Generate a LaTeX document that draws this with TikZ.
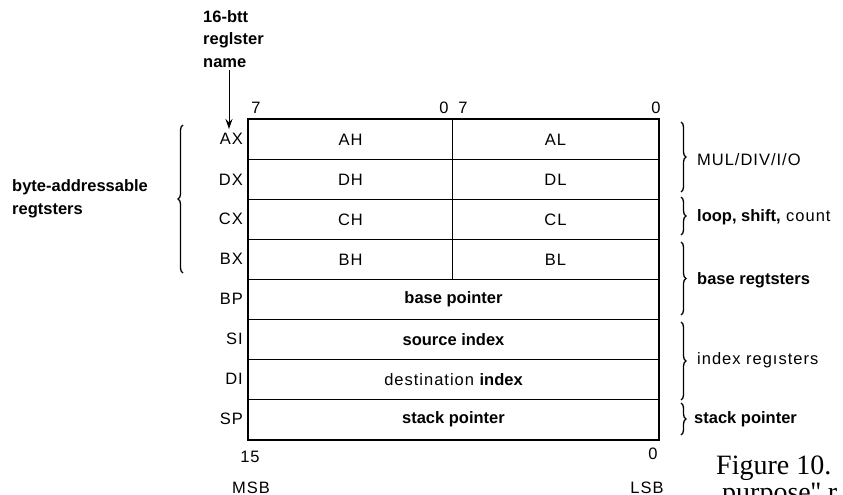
\documentclass[tikz,border=0pt]{standalone}
\usepackage{fontspec}
\setmainfont{Liberation Sans}
\newfontfamily\spfont{Liberation Sans}[LetterSpace=6]
\newfontfamily\capfont{Liberation Serif}
\newcommand\mybf[1]{{\normalfont\bfseries #1}}
\usetikzlibrary{decorations.pathreplacing,arrows.meta}
\begin{document}
\begin{tikzpicture}[x=1pt,y=-1pt,
  txt/.style={font=\spfont\fontsize{16.5}{20}\selectfont, inner sep=0pt},
  btxt/.style={font=\fontsize{16.5}{22.5}\selectfont\bfseries, inner sep=0pt},
  half/.style={draw, line width=1pt, minimum height=40pt, inner sep=0pt, anchor=north west, font=\spfont\fontsize{16.5}{20}\selectfont},
  full/.style={draw, line width=1pt, minimum height=40pt, minimum width=410pt, inner sep=0pt, anchor=north west, font=\spfont\fontsize{16.5}{20}\selectfont},
  regname/.style={txt, anchor=east},
  bitnum/.style={txt, anchor=base},
  sidetxt/.style={txt, anchor=west},
  brc/.style={decorate, decoration={brace, amplitude=5pt}, line width=1.3pt},
  arr/.style={-{Stealth[length=10pt,width=7pt]}, line width=1pt},
  captxt/.style={font=\capfont\fontsize{28}{32}\selectfont, anchor=base west, inner sep=0pt}
]
\useasboundingbox (0,0) rectangle (843,495);

% grid cells
\node[half, minimum width=204pt] (AH) at (248,119) {AH};
\node[half, minimum width=206pt] (AL) at (452,119) {AL};
\node[half, minimum width=204pt] (DH) at (248,159) {DH};
\node[half, minimum width=206pt] (DL) at (452,159) {DL};
\node[half, minimum width=204pt] (CH) at (248,199) {CH};
\node[half, minimum width=206pt] (CL) at (452,199) {CL};
\node[half, minimum width=204pt] (BH) at (248,239) {BH};
\node[half, minimum width=206pt] (BL) at (452,239) {BL};
\node[full] (BP) at (248,279) {\mybf{base pointer}};
\node[full] (SI) at (248,319) {\mybf{source index}};
\node[full] (DI) at (248,359) {destination \mybf{index}};
\node[full] (SP) at (248,399) {\mybf{stack pointer}};
\draw[line width=2pt] (AH.north west) rectangle (SP.south east);

% register names
\node[regname] (nAX) at (243,139) {AX};
\node[regname] (nDX) at (243,180) {DX};
\node[regname] (nCX) at (243,219) {CX};
\node[regname] (nBX) at (243,259) {BX};
\node[regname] (nBP) at (243,299) {BP};
\node[regname] (nSI) at (243,339) {SI};
\node[regname] (nDI) at (243,379) {DI};
\node[regname] (nSP) at (243,419) {SP};

% bit numbers
\node[bitnum] (b7a) at (256,113) {7};
\node[bitnum] (b0a) at (444,113) {0};
\node[bitnum] (b7b) at (463,113) {7};
\node[bitnum] (b0b) at (656,113) {0};
\node[bitnum] (b15) at (250,462) {15};
\node[bitnum] (b0c) at (653,459) {0};
\node[bitnum] (msb) at (251,493) {MSB};
\node[bitnum] (lsb) at (647,493) {LSB};

% title and arrow
\node[btxt, align=left, anchor=north west] (title) at (203,10) {16-btt\\reglster\\name};
\coordinate (arrS) at (229,70);
\coordinate (arrE) at (229,129);
\draw[arr] (arrS) -- (arrE);

% left brace and label
\draw[brc] (183,273) -- (183,125);
\node[btxt, align=left, anchor=west] (byte) at (12,199) {byte-addressable\\regtsters};

% right braces
\draw[brc] (681,122) -- (681,192);
\draw[brc] (681,197) -- (681,235);
\draw[brc] (681,242) -- (681,315);
\draw[brc] (681,322) -- (681,400);
\draw[brc] (681,403) -- (681,435);
\node[sidetxt] (mul) at (697,160) {MUL/DIV/I/O};
\node[sidetxt] (loop) at (697,217) {\mybf{loop, shift,} count};
\node[sidetxt] (base) at (697,280) {\mybf{base regtsters}};
\node[sidetxt] (idx) at (697,360) {index regısters};
\node[sidetxt] (stk) at (694,419) {\mybf{stack pointer}};

% caption (cut off at the edge, as in the reference)
\node[captxt] (cap1) at (716,474) {Figure 10.};
\node[captxt] (cap2) at (722,501) {purpose'' r};
\end{tikzpicture}
\end{document}
